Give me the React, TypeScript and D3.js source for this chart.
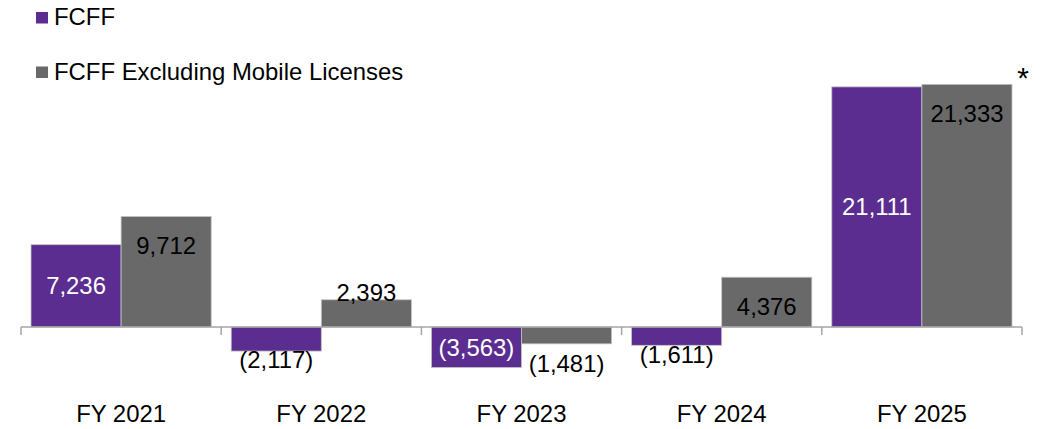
// Grouped bar chart: FCFF vs FCFF excluding mobile licenses, FY2021-FY2025
import React from 'react';
import * as d3 from 'd3';

const categories = ['FY 2021', 'FY 2022', 'FY 2023', 'FY 2024', 'FY 2025'];
const seriesNames = ['FCFF', 'FCFF Excluding Mobile Licenses'];
const fcff = [7236, -2117, -3563, -1611, 21111];
const fcffExMobile = [9712, 2393, -1481, 4376, 21333];
const seriesColors = ['#5c2d91', '#696969'];

const W = 1043, H = 429;
const FONT = 'Liberation Sans, Arial, sans-serif';
const FS = 23.9;

function fmt(v: number) {
  const s = d3.format(',')(Math.abs(v));
  return v < 0 ? '(' + s + ')' : s;
}

export default function App() {
  const x = d3.scaleBand<string>().domain(categories).range([21, 1022]).padding(0);
  const xInner = d3.scaleBand<number>().domain([0, 1]).range([0, x.bandwidth()])
    .paddingInner(0).paddingOuter(0.111);
  const y = d3.scaleLinear().domain([-8000, 24000]).range([418, 54]);
  const y0 = y(0);
  const seriesValues = [fcff, fcffExMobile];

  const bars: any[] = [];
  const labels: any[] = [];
  seriesValues.forEach((vals, s) => {
    vals.forEach((v, i) => {
      const bx = x(categories[i])! + xInner(s)!;
      const bw = xInner.bandwidth();
      const yv = y(v);
      const top = Math.min(yv, y0), h = Math.abs(yv - y0);
      bars.push(
        <rect key={'b' + s + i} x={bx} y={top} width={bw} height={h}
          fill={seriesColors[s]} stroke="#c4c4c4" strokeWidth={0.8} />
      );
      let ly: number;
      let fill = '#000';
      if (h >= 35) {
        if (s === 0) { ly = (yv + y0) / 2; fill = '#fff'; }
        else ly = yv + (v > 0 ? 29 : -29);
      } else {
        const out = v < 0 ? (s === 1 ? 20 : 9) : 7;
        ly = yv + (v < 0 ? out : -out);
      }
      labels.push(
        <text key={'l' + s + i} x={bx + bw / 2} y={ly} dy="0.35em" textAnchor="middle"
          fill={fill} fontSize={FS} fontFamily={FONT}>{fmt(v)}</text>
      );
    });
  });

  const last = categories.length - 1;
  const starX = x(categories[last])! + xInner(1)! + xInner.bandwidth() + 11;
  const starY = y(fcffExMobile[last]) + 4;

  const ticks = categories.map(c => x(c)!).concat([x(categories[last])! + x.bandwidth()]);

  return (
    <svg width={W} height={H} style={{ position: 'absolute', left: 0, top: 0, background: '#fff' }}>
      {seriesNames.map((n, i) => (
        <g key={n} transform={`translate(36,${12 + i * 54.5})`}>
          <rect width={12} height={11.5} fill={seriesColors[i]} />
          <text x={18} y={13} fontSize={FS} fontFamily={FONT} fill="#000">{n}</text>
        </g>
      ))}
      {bars}
      <line x1={ticks[0]} x2={ticks[ticks.length - 1]} y1={y0} y2={y0} stroke="#a6a6a6" strokeWidth={1.5} />
      {ticks.map((t, i) => (
        <line key={'t' + i} x1={t} x2={t} y1={y0} y2={y0 + 8} stroke="#a6a6a6" strokeWidth={1.5} />
      ))}
      {labels}
      {categories.map(c => (
        <text key={c} x={x(c)! + x.bandwidth() / 2} y={422} textAnchor="middle"
          fontSize={FS} fontFamily={FONT} fill="#000">{c}</text>
      ))}
      <text x={starX} y={starY} textAnchor="middle" fontSize={30} fontFamily={FONT} fill="#000">*</text>
    </svg>
  );
}
